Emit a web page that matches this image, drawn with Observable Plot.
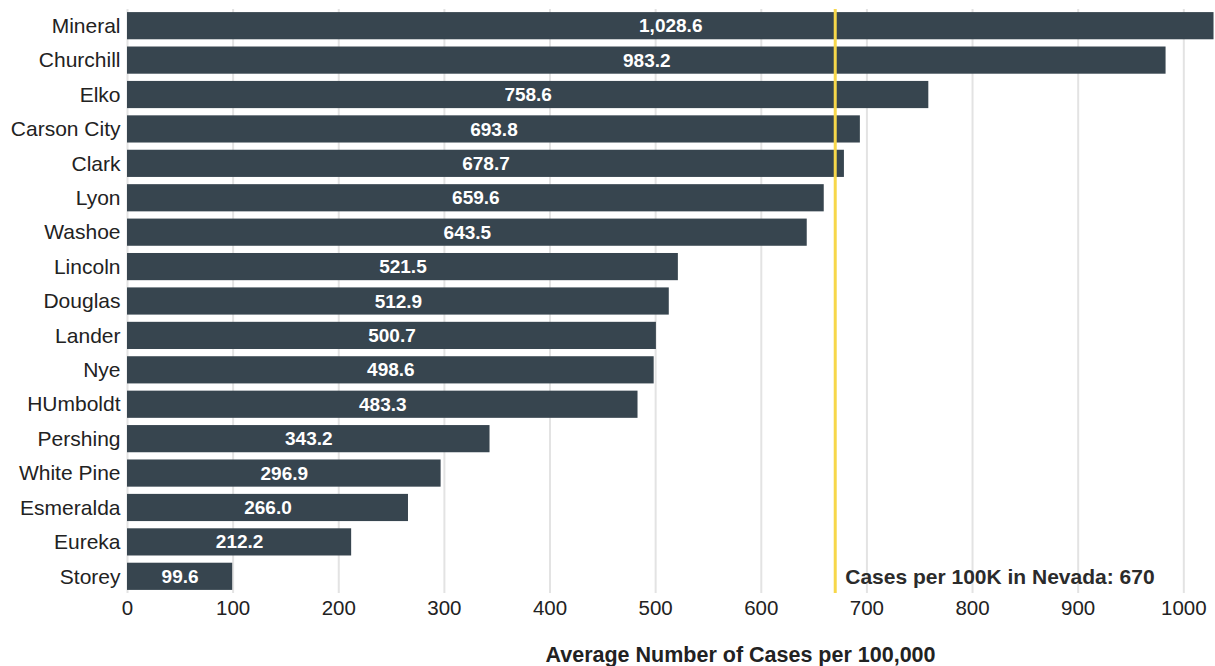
<!DOCTYPE html>
<html>
<head>
<meta charset="utf-8">
<script src="https://cdn.jsdelivr.net/npm/d3@7"></script>
<script src="https://cdn.jsdelivr.net/npm/@observablehq/plot@0.6"></script>
<style>
  body { margin: 0; background: #fff; font-family: "Liberation Sans", Arial, sans-serif; }
</style>
</head>
<body>
<div id="chart"></div>
<script>
const counties = ["Mineral","Churchill","Elko","Carson City","Clark","Lyon","Washoe","Lincoln","Douglas","Lander","Nye","HUmboldt","Pershing","White Pine","Esmeralda","Eureka","Storey"];
const rates = [1028.6,983.2,758.6,693.8,678.7,659.6,643.5,521.5,512.9,500.7,498.6,483.3,343.2,296.9,266.0,212.2,99.6];
const stateRate = 670;
const stateLabel = "Cases per 100K in Nevada: 670";
const xTicks = [0,100,200,300,400,500,600,700,800,900,1000];
const axisTitle = "Average Number of Cases per 100,000";

const data = counties.map((c, i) => ({county: c, rate: rates[i]}));
const fmt = d3.format(",.1f");
const labelRow = [{county: counties[counties.length - 1], rate: stateRate, text: stateLabel}];

const chart = Plot.plot({
  width: 1215,
  height: 666,
  marginLeft: 127,
  marginRight: 0,
  marginTop: 9,
  marginBottom: 73,
  style: {fontFamily: "'Liberation Sans', Arial, sans-serif", background: "#fff"},
  x: {domain: [0, 1030], ticks: xTicks, label: null},
  y: {domain: counties, paddingInner: 0.21, paddingOuter: 0.09, round: false, label: null},
  marks: [
    Plot.gridX(xTicks, {stroke: "#e3e3e3", strokeOpacity: 1, strokeWidth: 2}),
    Plot.barX(data, {y: "county", x: "rate", fill: "#37454f"}),
    Plot.text(data, {y: "county", x: d => d.rate / 2, text: d => fmt(d.rate), fill: "#fff", fontWeight: "bold", fontSize: 19}),
    Plot.ruleX([stateRate], {stroke: "#f7d74a", strokeWidth: 3}),
    Plot.text(labelRow, {x: "rate", y: "county", text: "text", textAnchor: "start", dx: 10, fontWeight: "bold", fontSize: 21, fill: "#2b2b2b"}),
    Plot.axisX({ticks: xTicks, tickSize: 0, tickPadding: 7, fontSize: 20.5, color: "#222", tickFormat: d3.format("d"), label: null}),
    Plot.axisY({tickSize: 0, tickPadding: 7, fontSize: 21, color: "#222", label: null}),
    Plot.text([axisTitle], {frameAnchor: "bottom", text: d => d, dy: 68, dx: 69, fontWeight: "bold", fontSize: 21.5, fill: "#222"})
  ]
});
document.getElementById("chart").appendChild(chart);
</script>
</body>
</html>
